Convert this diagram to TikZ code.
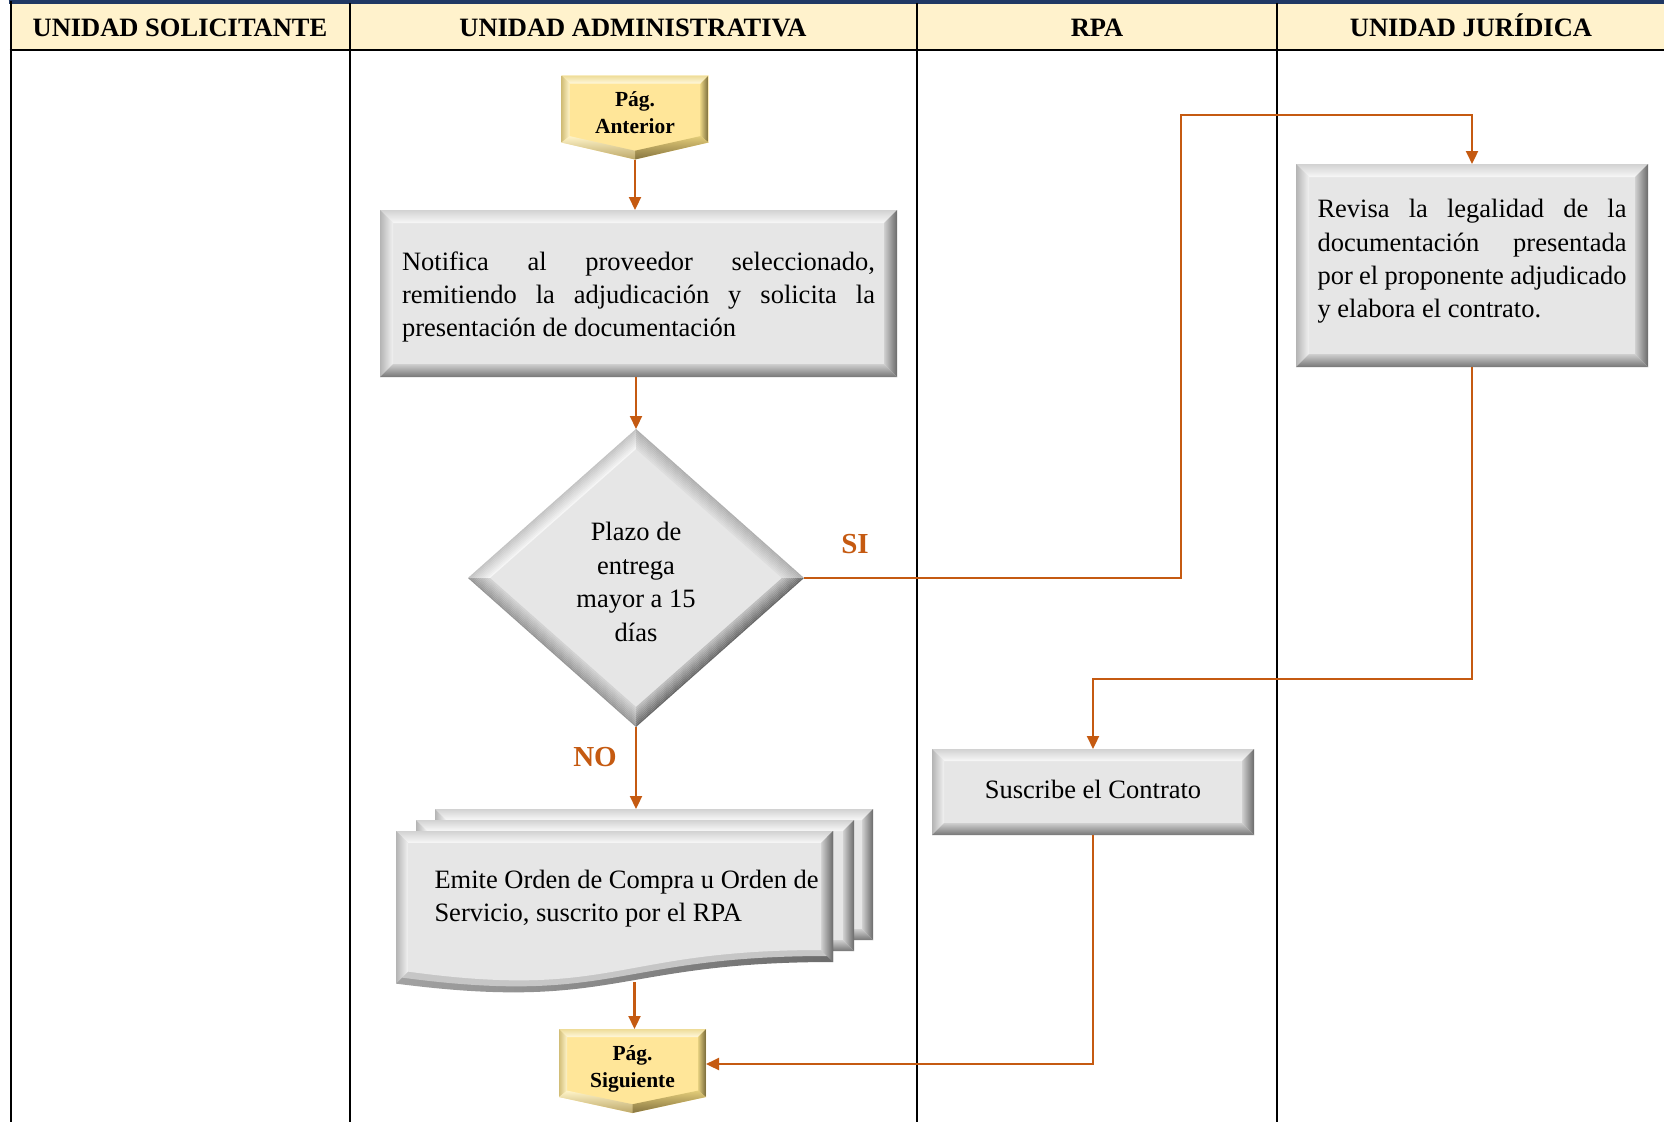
\documentclass[tikz,border=0pt]{standalone}
\usepackage{fontspec}
\setmainfont{Liberation Serif}
\usetikzlibrary{arrows.meta,calc,backgrounds}

% palette
\definecolor{flow}{HTML}{C55A11}
\definecolor{headfill}{HTML}{FFF2CC}
\definecolor{navy}{HTML}{1F3864}
% grey bevelled boxes
\definecolor{grayFace}{HTML}{E6E6E6}
\definecolor{grayTopOut}{HTML}{D2D2D2}
\definecolor{grayTopIn}{HTML}{F8F8F8}
\definecolor{grayLeftOut}{HTML}{B4B4B4}
\definecolor{grayLeftIn}{HTML}{F2F2F2}
\definecolor{grayRightIn}{HTML}{D0D0D0}
\definecolor{grayRightOut}{HTML}{6A6A6A}
\definecolor{grayBotIn}{HTML}{CFCFCF}
\definecolor{grayBotOut}{HTML}{767676}
\definecolor{docEdgeL}{HTML}{A2A2A2}
\definecolor{docEdgeR}{HTML}{6C6C6C}
\definecolor{docEdgeMid}{HTML}{C6C6C6}
% yellow bevelled page links
\definecolor{goldFace}{HTML}{FFE699}
\definecolor{goldTopOut}{HTML}{EEDC98}
\definecolor{goldTopIn}{HTML}{FFF8DC}
\definecolor{goldLeftOut}{HTML}{D2BE78}
\definecolor{goldLeftIn}{HTML}{FFF4C8}
\definecolor{goldRightIn}{HTML}{E6D080}
\definecolor{goldRightOut}{HTML}{766838}
\definecolor{goldBotIn}{HTML}{E2CB78}
\definecolor{goldBotOut}{HTML}{857440}
% diamond bands
\definecolor{dNWout}{HTML}{C4C4C4}
\definecolor{dNWin}{HTML}{FAFAFA}
\definecolor{dNEout}{HTML}{B0B0B0}
\definecolor{dNEin}{HTML}{E2E2E2}
\definecolor{dSEout}{HTML}{6A6A6A}
\definecolor{dSEin}{HTML}{C8C8C8}
\definecolor{dSWout}{HTML}{979797}
\definecolor{dSWin}{HTML}{D8D8D8}

% text moved up (or down) inside its node without changing the node size
\newcommand\lift[2]{\raisebox{#1}[\height][\depth]{#2}}

% bevelled rectangle: nw corner, se corner, depth, colour family
\newcommand\bevelbox[4]{%
  \path #1 coordinate (bvA) #2 coordinate (bvC);
  \path (bvC |- bvA) coordinate (bvB) (bvA |- bvC) coordinate (bvD);
  \path ([shift={(#3,#3)}]bvA) coordinate (bva)
        ([shift={(-#3,#3)}]bvB) coordinate (bvb)
        ([shift={(-#3,-#3)}]bvC) coordinate (bvc)
        ([shift={(#3,-#3)}]bvD) coordinate (bvd);
  \fill[#4Face] (bvA) rectangle (bvC);
  \shade[top color=#4TopOut, bottom color=#4TopIn] (bvA)--(bvB)--(bvb)--(bva)--cycle;
  \shade[left color=#4LeftOut, right color=#4LeftIn] (bvA)--(bva)--(bvd)--(bvD)--cycle;
  \shade[left color=#4RightIn, right color=#4RightOut] (bvB)--(bvC)--(bvc)--(bvb)--cycle;
  \shade[top color=#4BotIn, bottom color=#4BotOut] (bvD)--(bvd)--(bvc)--(bvC)--cycle;
}

% bevelled off-page connector: node, depth, tip height, colour family
\newcommand\bevelpent[4]{%
  \path (#1.north west) coordinate (bpA) (#1.north east) coordinate (bpB)
        (#1.south) coordinate (bpT)
        ([yshift=#3pt]#1.south east) coordinate (bpC)
        ([yshift=#3pt]#1.south west) coordinate (bpD);
  \path ([shift={(#2,#2)}]bpA) coordinate (bpa)
        ([shift={(-#2,#2)}]bpB) coordinate (bpb)
        ([shift={(-#2,{-0.8*#2})}]bpC) coordinate (bpc)
        ([shift={(#2,{-0.8*#2})}]bpD) coordinate (bpd)
        ([shift={(0,{-1.1*#2})}]bpT) coordinate (bpt);
  \fill[#4Face] (bpA)--(bpB)--(bpC)--(bpT)--(bpD)--cycle;
  \shade[top color=#4TopOut, bottom color=#4TopIn] (bpA)--(bpB)--(bpb)--(bpa)--cycle;
  \shade[left color=#4LeftOut, right color=#4LeftIn] (bpA)--(bpa)--(bpd)--(bpD)--cycle;
  \shade[left color=#4RightIn, right color=#4RightOut] (bpB)--(bpC)--(bpc)--(bpb)--cycle;
  \shade[top color=#4BotIn, bottom color=#4BotOut] (bpC)--(bpT)--(bpt)--(bpc)--cycle;
  \shade[top color=#4LeftIn, bottom color=#4BotOut!55!#4Face] (bpD)--(bpd)--(bpt)--(bpT)--cycle;
}

% bevelled decision diamond: node, horizontal inset, vertical inset
\newcommand\beveldia[3]{%
  \fill[grayFace] (#1.north)--(#1.east)--(#1.south)--(#1.west)--cycle;
  \foreach \k [evaluate=\k as \p using {int(100-\k*10)}, evaluate=\k as \q using {int(\k+1)}] in {0,...,9}{
    \path ($(#1.north)+(0,{\k*#3/10})$) coordinate (dn1) ($(#1.north)+(0,{\q*#3/10})$) coordinate (dn2)
          ($(#1.east)+({-\k*#2/10},0)$) coordinate (de1) ($(#1.east)+({-\q*#2/10},0)$) coordinate (de2)
          ($(#1.south)+(0,{-\k*#3/10})$) coordinate (ds1) ($(#1.south)+(0,{-\q*#3/10})$) coordinate (ds2)
          ($(#1.west)+({\k*#2/10},0)$) coordinate (dw1) ($(#1.west)+({\q*#2/10},0)$) coordinate (dw2);
    \fill[dNWout!\p!dNWin] (dw1)--(dn1)--(dn2)--(dw2)--cycle;
    \fill[dNEout!\p!dNEin] (dn1)--(de1)--(de2)--(dn2)--cycle;
    \fill[dSEout!\p!dSEin] (de1)--(ds1)--(ds2)--(de2)--cycle;
    \fill[dSWout!\p!dSWin] (ds1)--(dw1)--(dw2)--(ds2)--cycle;
  }
}

\tikzset{
  every node/.style={inner sep=0pt, outer sep=0pt},
  lane/.style={line width=2pt, black},
  head/.style={anchor=base, font=\fontsize{26.5}{30}\selectfont\bfseries},
  proc/.style={rectangle, font=\fontsize{26.5}{33.2}\selectfont},
  decision/.style={rectangle, font=\fontsize{26.5}{33.6}\selectfont},
  pagelink/.style={rectangle, font=\fontsize{21.5}{26.4}\selectfont\bfseries,
                   minimum width=147pt, minimum height=84pt},
  flowline/.style={flow, line width=2.2pt, -{Triangle[length=13pt,width=12pt]}},
  answer/.style={text=flow, font=\fontsize{29}{32}\selectfont\bfseries},
}

\begin{document}
\begin{tikzpicture}[x=1pt,y=-1pt]
\useasboundingbox (0,0) rectangle (1664,1122);

% lane headings
\node[head] (h1) at (180,36.5) {UNIDAD SOLICITANTE};
\node[head] (h2) at (633,36.5) {UNIDAD ADMINISTRATIVA};
\node[head] (h3) at (1097,36.5) {RPA};
\node[head] (h4) at (1471,36.5) {UNIDAD JURÍDICA};

% flow elements
\node[pagelink] (pa) at (635,117.5)
  {\lift{2.7pt}{\begin{tabular}{@{}c@{}}Pág.\\Anterior\end{tabular}}};

\node[proc, minimum width=517pt, minimum height=167pt] (notif) at (638.5,293.5)
  {\lift{-3.2pt}{\parbox{473pt}{\makebox[473pt][s]{Notifica al proveedor seleccionado,}\\
   \makebox[473pt][s]{remitiendo la adjudicación y solicita la}\\
   presentación de documentación}}};

\node[decision, minimum width=336pt, minimum height=298pt] (dia) at (636,578)
  {\lift{-6.4pt}{\begin{tabular}{@{}c@{}}Plazo de\\entrega\\mayor a 15\\días\end{tabular}}};

\node[proc, minimum width=352pt, minimum height=203pt] (rev) at (1472,265.5)
  {\lift{4.2pt}{\parbox{309pt}{\makebox[309pt][s]{Revisa la legalidad de la}\\
   \makebox[309pt][s]{documentación presentada}\\
   \makebox[309pt][s]{por el proponente adjudicado}\\
   y elabora el contrato.}}};

\node[proc, minimum width=322pt, minimum height=86pt] (ss) at (1093,792)
  {\lift{2.1pt}{Suscribe el Contrato}};

\node[proc, minimum width=477pt, minimum height=173pt] (doc) at (634.5,895.5)
  {\lift{-3.2pt}{\parbox{400pt}{Emite Orden de Compra u Orden de\\ Servicio, suscrito por el RPA}}};

\node[pagelink] (ps) at (632.5,1071)
  {\lift{2.1pt}{\begin{tabular}{@{}c@{}}Pág.\\Siguiente\end{tabular}}};

\node[answer] (si) at (855,544) {SI};
\node[answer] (no) at (595,757) {NO};

% bends of the connectors
\coordinate (siup) at (1181,115);
\coordinate (revturn) at (1473,679);
\coordinate (psin) at ([yshift=7pt]ps.east);

% connectors
\draw[flowline] (pa.south) -- (pa.south |- notif.north);
\draw[flowline] (dia.north |- notif.south) -- (dia.north);
\draw[flowline] (dia.east) -- (dia.east -| siup) -- (siup) -- (siup -| rev.north) -- (rev.north);
\draw[flowline] (rev.south) -- (rev.south |- revturn) -- (revturn -| ss.north) -- (ss.north);
\draw[flowline] (dia.south) -- (dia.south |- doc.north);
\draw[flowline] (doc.south) -- (doc.south |- ps.north);
\draw[flowline] (ss.south) |- (psin);

\begin{pgfonlayer}{background}
  \fill[white] (0,0) rectangle (1664,1122);
  % swimlane frame
  \fill[headfill] (10.6,3) rectangle (1664,50);
  \draw[navy, line width=4pt] (8.6,2) -- (1664,2);
  \draw[lane] (10.6,1) -- (10.6,1122);
  \draw[lane] (350,3) -- (350,1122);
  \draw[lane] (917,3) -- (917,1122);
  \draw[lane] (1277,3) -- (1277,1122);
  \draw[lane, line width=2.4pt] (9.6,50) -- (1664,50);

  % bevelled shapes
  \bevelpent{pa}{8}{17}{gold}
  \bevelpent{ps}{8}{16}{gold}
  \bevelbox{(notif.north west)}{(notif.south east)}{13}{gray}
  \bevelbox{(rev.north west)}{(rev.south east)}{13}{gray}
  \bevelbox{(ss.north west)}{(ss.south east)}{12}{gray}
  \beveldia{dia}{22}{20}

  % stacked documents
  \bevelbox{(435,809)}{(873,940)}{11}{gray}
  \bevelbox{(416,820)}{(854,951)}{11}{gray}
  \shade[left color=docEdgeL, right color=docEdgeR]
    (396,831) -- (833,831) -- (833,962) .. controls (614.5,962) and (614.5,1012) .. (396,983.6) -- cycle;
  \fill[docEdgeMid]
    (402,837) -- (827,837) -- (827,956) .. controls (614.5,956) and (614.5,1006) .. (402,977.6) -- cycle;
  \shade[top color=grayTopOut, bottom color=grayTopIn] (396,831)--(833,831)--(821,843)--(408,843)--cycle;
  \shade[left color=grayLeftOut, right color=grayLeftIn] (396,831)--(408,843)--(408,971.6)--(396,983.6)--cycle;
  \shade[left color=grayRightIn, right color=grayRightOut] (833,831)--(833,962)--(821,950)--(821,843)--cycle;
  \fill[grayFace]
    (408,843) -- (821,843) -- (821,950) .. controls (614.5,950) and (614.5,1000) .. (408,971.6) -- cycle;
\end{pgfonlayer}
\end{tikzpicture}
\end{document}
